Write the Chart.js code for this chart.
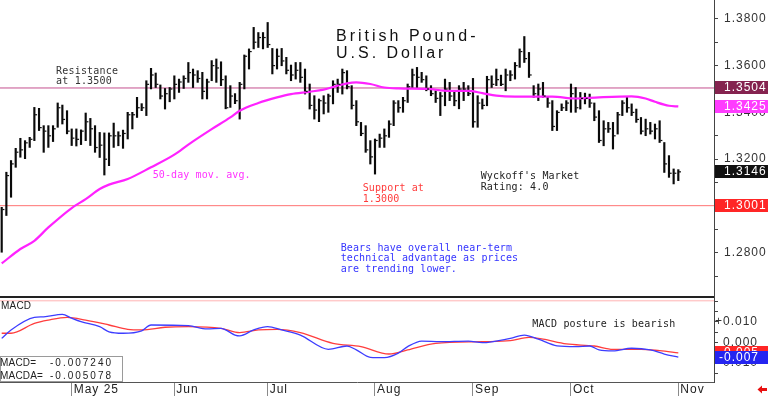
<!DOCTYPE html>
<html><head><meta charset="utf-8">
<script src="https://cdn.jsdelivr.net/npm/chart.js@4/dist/chart.umd.min.js"></script>
<style>
html,body{margin:0;padding:0;background:#fff;width:768px;height:396px;overflow:hidden}
canvas{position:absolute;left:0}
#c1{top:0}
#c2{top:296px}
</style></head><body>
<canvas id="c1" width="768" height="296"></canvas>
<canvas id="c2" width="768" height="100"></canvas>
<script>
// ---- data (bar index 0 = first bar on the chart) ----
const highs = [1.2994,1.3144,1.3194,1.3246,1.3289,1.3279,1.3293,1.3421,1.3417,1.3343,
1.3343,1.3343,1.3440,1.3431,1.3407,1.3329,1.3329,1.3325,1.3397,1.3374,
1.3343,1.3314,1.3312,1.3312,1.3354,1.3317,1.3324,1.3400,1.3400,1.3464,
1.3437,1.3535,1.3588,1.3568,1.3517,1.3502,1.3506,1.3556,1.3542,1.3556,
1.3613,1.3585,1.3578,1.3571,1.3542,1.3621,1.3628,1.3616,1.3556,1.3514,
1.3480,1.3528,1.3645,1.3671,1.3763,1.3741,1.3741,1.3784,1.3673,1.3671,
1.3673,1.3635,1.3602,1.3613,1.3613,1.3585,1.3521,1.3471,1.3457,1.3471,
1.3478,1.3535,1.3542,1.3585,1.3578,1.3514,1.3450,1.3357,1.3343,1.3279,
1.3286,1.3307,1.3329,1.3364,1.3450,1.3450,1.3464,1.3521,1.3585,1.3592,
1.3571,1.3556,1.3514,1.3492,1.3485,1.3542,1.3528,1.3492,1.3514,1.3528,
1.3514,1.3545,1.3471,1.3457,1.3554,1.3556,1.3585,1.3559,1.3585,1.3578,
1.3613,1.3671,1.3724,1.3656,1.3514,1.3521,1.3528,1.3464,1.3450,1.3407,
1.3436,1.3450,1.3521,1.3506,1.3485,1.3482,1.3478,1.3440,1.3407,1.3364,
1.3357,1.3357,1.3400,1.3450,1.3468,1.3436,1.3414,1.3378,1.3371,1.3357,
1.3350,1.3364,1.3271,1.3215,1.3158,1.3155];
const lows = [1.2802,1.2959,1.3037,1.3165,1.3208,1.3202,1.3250,1.3279,1.3322,1.3229,
1.3250,1.3275,1.3336,1.3350,1.3308,1.3258,1.3256,1.3262,1.3279,1.3258,
1.3229,1.3207,1.3132,1.3172,1.3250,1.3257,1.3246,1.3286,1.3329,1.3378,
1.3407,1.3386,1.3500,1.3506,1.3457,1.3414,1.3445,1.3457,1.3485,1.3502,
1.3528,1.3506,1.3528,1.3457,1.3457,1.3535,1.3528,1.3514,1.3415,1.3421,
1.3437,1.3371,1.3500,1.3585,1.3671,1.3677,1.3671,1.3677,1.3564,1.3585,
1.3599,1.3564,1.3535,1.3542,1.3528,1.3478,1.3414,1.3371,1.3360,1.3393,
1.3400,1.3436,1.3485,1.3478,1.3500,1.3414,1.3343,1.3300,1.3229,1.3179,
1.3136,1.3250,1.3250,1.3293,1.3343,1.3400,1.3400,1.3442,1.3506,1.3506,
1.3528,1.3492,1.3471,1.3442,1.3386,1.3428,1.3450,1.3428,1.3415,1.3450,
1.3471,1.3336,1.3336,1.3414,1.3428,1.3506,1.3514,1.3514,1.3492,1.3535,
1.3542,1.3592,1.3613,1.3549,1.3464,1.3450,1.3464,1.3421,1.3322,1.3322,
1.3407,1.3407,1.3400,1.3400,1.3414,1.3436,1.3421,1.3364,1.3271,1.3257,
1.3314,1.3243,1.3307,1.3386,1.3400,1.3386,1.3357,1.3307,1.3300,1.3307,
1.3286,1.3271,1.3143,1.3122,1.3094,1.3108];
const closes = [1.2985,1.3130,1.3180,1.3230,1.3240,1.3270,1.3285,1.3390,1.3335,1.3320,
1.3300,1.3330,1.3420,1.3370,1.3320,1.3290,1.3285,1.3320,1.3360,1.3330,
1.3250,1.3260,1.3200,1.3300,1.3300,1.3300,1.3310,1.3390,1.3390,1.3420,
1.3420,1.3520,1.3560,1.3520,1.3470,1.3480,1.3500,1.3520,1.3530,1.3545,
1.3570,1.3560,1.3545,1.3490,1.3530,1.3600,1.3590,1.3540,1.3420,1.3470,
1.3450,1.3520,1.3640,1.3660,1.3700,1.3720,1.3720,1.3690,1.3600,1.3640,
1.3620,1.3580,1.3560,1.3580,1.3550,1.3490,1.3430,1.3410,1.3450,1.3440,
1.3470,1.3520,1.3520,1.3570,1.3510,1.3430,1.3360,1.3310,1.3240,1.3210,
1.3280,1.3290,1.3300,1.3350,1.3440,1.3420,1.3450,1.3510,1.3560,1.3550,
1.3540,1.3500,1.3480,1.3460,1.3470,1.3500,1.3470,1.3450,1.3500,1.3500,
1.3480,1.3360,1.3440,1.3430,1.3540,1.3520,1.3540,1.3520,1.3560,1.3560,
1.3600,1.3660,1.3630,1.3560,1.3480,1.3500,1.3470,1.3440,1.3340,1.3400,
1.3420,1.3440,1.3480,1.3420,1.3460,1.3460,1.3440,1.3380,1.3280,1.3330,
1.3330,1.3300,1.3390,1.3440,1.3420,1.3400,1.3370,1.3320,1.3330,1.3320,
1.3330,1.3280,1.3180,1.3140,1.3140,1.3146];
const maIdx = [0,4,7,10,15,18,21,23,27,32,37,40,45,49,51,55,59,62,66,69,72,74,76,79,82,85,91,96,100,103,106,110,118,123,128,135,138,140,143,145];
const maVal = [1.2754,1.2816,1.2851,1.2908,1.2991,1.3029,1.3072,1.3091,1.3115,1.3165,1.3219,1.3262,1.3328,1.3378,1.3407,1.3440,1.3464,1.3478,1.3488,1.3497,1.3514,1.3524,1.3528,1.3521,1.3506,1.3502,1.3500,1.3492,1.3492,1.3482,1.3471,1.3467,1.3467,1.3459,1.3464,1.3468,1.3459,1.3445,1.3428,1.3425];
const macdIdx = [0,2,7,9,13,15,17,21,23,26,30,32,40,44,47,50,51,54,57,60,64,70,74,76,79,82,85,87,90,94,100,103,109,112,115,119,123,126,128,131,135,139,142,145];
const macdVal = [0.0019,0.0060,0.0121,0.0124,0.0136,0.0117,0.0100,0.0076,0.0051,0.0044,0.0056,0.0084,0.0081,0.0065,0.0068,0.0035,0.0031,0.0060,0.0076,0.0060,0.0035,-0.0034,-0.0018,-0.0037,-0.0073,-0.0075,-0.0053,-0.0021,0.0006,0.0003,0.0006,-0.0002,0.0019,0.0035,0.0015,-0.0017,-0.0021,-0.0018,-0.0037,-0.0042,-0.0029,-0.0037,-0.0057,-0.0072];
const sigIdx = [0,2,7,10,14,18,23,27,30,35,40,47,51,55,59,64,71,77,83,87,93,103,109,113,116,121,127,131,137,141,145];
const sigVal = [0.0044,0.0044,0.0092,0.0108,0.0121,0.0108,0.0084,0.0063,0.0060,0.0073,0.0076,0.0068,0.0047,0.0060,0.0063,0.0047,-0.0005,-0.0021,-0.0057,-0.0037,-0.0005,0.0003,0.0008,0.0024,0.0015,-0.0008,-0.0018,-0.0034,-0.0034,-0.0041,-0.0051];
const monthLabels = ['May 25','Jun','Jul','Aug','Sep','Oct','Nov'];
const monthIdx = [15,37,57,80,101,122,145];
const macdTickLabels = ['+0.010','0.000','-0.010'];
const macdTickVals = [0.010, 0.000, -0.010];
const resistance = 1.3504, support = 1.3001;
const maLast = 1.3425, lastClose = 1.3146;
const macdLast = -0.007240, macdaLast = -0.005078;

const X_MIN = -0.364, X_MAX = 152.65;
const P_MIN = 1.2615, P_MAX = 1.3880;
const M_MIN = -0.0193, M_MAX = 0.0225;

const SANS = '"Liberation Sans", Arial, sans-serif';
const MONO = '"DejaVu Sans Mono", monospace';

function txt(ctx, s, x, y, font, color, ls, align) {
  ctx.save();
  ctx.font = font; ctx.fillStyle = color; ctx.letterSpacing = ls || '0px';
  ctx.textAlign = align || 'left'; ctx.textBaseline = 'alphabetic';
  ctx.fillText(s, x, y);
  ctx.restore();
}
function valBox(ctx, y, bg, s, align, tx) {
  ctx.save();
  ctx.fillStyle = bg; ctx.fillRect(715, Math.round(y - 6.5), 53, 13);
  ctx.font = '12px ' + SANS; ctx.fillStyle = '#fff'; ctx.letterSpacing = '1px';
  ctx.textAlign = align; ctx.textBaseline = 'middle';
  ctx.fillText(s, tx, Math.round(y - 6.5) + 7);
  ctx.restore();
}
const spacing = {id:'spacing',
  beforeLayout(c){ c.ctx.letterSpacing = '1px'; },
  beforeDraw(c){ c.ctx.letterSpacing = '1px'; }};
function noPad(s){ s.paddingTop = 0; s.paddingBottom = 0; s.paddingLeft = 0; s.paddingRight = 0; }

// ---- price chart ----
const pricePlugin = {id:'pricePlugin',
  afterDatasetsDraw(c){
    const {ctx, scales:{x, y}} = c;
    ctx.save(); ctx.fillStyle = '#111';
    closes.forEach((v, i) => {
      const px = x.getPixelForValue(i), py = y.getPixelForValue(v);
      ctx.fillRect(px + 0.7, py - 0.5, 2, 1.2);
    });
    ctx.restore();
  },
  afterDraw(c){
    const {ctx, scales:{y}} = c;
    txt(ctx, 'British Pound-', 336, 40.7, '16px ' + SANS, '#111', '3px');
    txt(ctx, 'U.S. Dollar', 336, 58.3, '16px ' + SANS, '#111', '3px');
    const f = '10px ' + MONO;
    txt(ctx, 'Resistance', 56, 74, f, '#333', '0.2px');
    txt(ctx, 'at 1.3500', 56, 84, f, '#333', '0.2px');
    txt(ctx, '50-day mov. avg.', 152.7, 178.3, f, '#ff33ff', '0.1px');
    txt(ctx, 'Support at', 362.7, 191, f, '#ff3b3b', '0.1px');
    txt(ctx, '1.3000', 362.7, 201.7, f, '#ff3b3b', '0.1px');
    txt(ctx, "Wyckoff's Market", 480.7, 179.3, f, '#222', '0.15px');
    txt(ctx, 'Rating: 4.0', 480.7, 190, f, '#222', '0.15px');
    txt(ctx, 'Bears have overall near-term', 340.7, 251, f, '#3434ff', '0.1px');
    txt(ctx, 'technical advantage as prices', 340.7, 261.4, f, '#3434ff', '0.1px');
    txt(ctx, 'are trending lower.', 340.7, 271.8, f, '#3434ff', '0.1px');
    valBox(ctx, y.getPixelForValue(resistance), '#85234f', resistance.toFixed(4), 'left', 724);
    valBox(ctx, y.getPixelForValue(maLast), '#ff3cff', maLast.toFixed(4), 'left', 724);
    valBox(ctx, y.getPixelForValue(lastClose), '#111', lastClose.toFixed(4), 'left', 724);
    valBox(ctx, y.getPixelForValue(support), '#ff2626', support.toFixed(4), 'left', 724);
  }};

new Chart(document.getElementById('c1'), {
  type: 'bar',
  data: { datasets: [
    { type:'line', data:[{x:X_MIN, y:resistance},{x:X_MAX, y:resistance}], borderColor:'#c4508e', borderWidth:1, pointRadius:0, order:5 },
    { type:'line', data:[{x:X_MIN, y:support},{x:X_MAX, y:support}], borderColor:'#ff7373', borderWidth:1, pointRadius:0, order:5 },
    { type:'bar', data: highs.map((h, i) => ({x:i, y:[lows[i], h]})), backgroundColor:'#0a0a0a', barThickness:1.5, order:3 },
    { type:'line', data: maIdx.map((v, i) => ({x:v, y:maVal[i]})), borderColor:'#ff22ff', borderWidth:2.2, pointRadius:0, cubicInterpolationMode:'monotone', order:1 }
  ]},
  options: {
    responsive:false, animation:false, devicePixelRatio:1, events:[],
    layout:{padding:0},
    plugins:{legend:{display:false}, tooltip:{enabled:false}},
    scales:{
      x:{type:'linear', min:X_MIN, max:X_MAX, offset:false, display:false},
      y:{type:'linear', position:'right', min:P_MIN, max:P_MAX,
         afterFit(s){ s.width = 54; noPad(s); },
         grid:{drawOnChartArea:false, drawTicks:true, tickLength:4, color:'#444'},
         border:{display:true, color:'#444', width:1},
         ticks:{stepSize:0.01, includeBounds:false, autoSkip:false, crossAlign:'near', padding:6,
                font:{family:SANS, size:12}, color:'#333',
                callback:v => (Math.round(v*100) % 2 === 0 ? v.toFixed(4) : '')}}
    }
  },
  plugins:[spacing, pricePlugin]
});

// ---- MACD chart ----
const macdPlugin = {id:'macdPlugin',
  afterDraw(c){
    const {ctx, scales:{y}} = c;
    ctx.save();
    ctx.fillStyle = '#222'; ctx.fillRect(0, 0, 714, 2);
    ctx.fillStyle = '#ffb4b4'; ctx.fillRect(0, 4.3, 714, 1);
    ctx.restore();
    txt(ctx, 'MACD', 1, 13.3, '10px ' + SANS, '#222', '0.2px');
    ctx.save();
    ctx.fillStyle = '#fff'; ctx.fillRect(0, 60.5, 122.5, 25);
    ctx.strokeStyle = '#9a9a9a'; ctx.lineWidth = 1; ctx.strokeRect(0.5, 60.5, 122, 25);
    ctx.restore();
    txt(ctx, 'MACD=', 0, 70, '10px ' + SANS, '#222', '0.2px');
    txt(ctx, 'MACDA=', 0, 83.3, '10px ' + SANS, '#222', '0.2px');
    txt(ctx, macdLast.toFixed(6), 50, 70, '10px ' + SANS, '#222', '2px');
    txt(ctx, macdaLast.toFixed(6), 50, 83.3, '10px ' + SANS, '#222', '2px');
    txt(ctx, 'MACD posture is bearish', 532.3, 31.3, '10px ' + MONO, '#222', '0.2px');
    valBox(ctx, y.getPixelForValue(macdaLast), '#ff2626', macdaLast.toFixed(3), 'right', 759);
    valBox(ctx, y.getPixelForValue(macdLast), '#2424f0', macdLast.toFixed(3), 'right', 759);
    // small red arrow, bottom right
    ctx.save(); ctx.fillStyle = '#e81010';
    ctx.beginPath(); ctx.moveTo(757.5, 93.5); ctx.lineTo(762, 89.5); ctx.lineTo(762, 97.5); ctx.closePath(); ctx.fill();
    ctx.fillRect(761.5, 92, 5.5, 3);
    ctx.restore();
  }};

new Chart(document.getElementById('c2'), {
  type: 'line',
  data: { datasets: [
    { data: sigIdx.map((v, i) => ({x:v, y:sigVal[i]})), borderColor:'#ff3d3d', borderWidth:1.3, pointRadius:0, cubicInterpolationMode:'monotone', order:2 },
    { data: macdIdx.map((v, i) => ({x:v, y:macdVal[i]})), borderColor:'#3d3dff', borderWidth:1.3, pointRadius:0, cubicInterpolationMode:'monotone', order:1 }
  ]},
  options: {
    responsive:false, animation:false, devicePixelRatio:1, events:[],
    layout:{padding:{top:0, left:0, bottom:0, right:10}},
    plugins:{legend:{display:false}, tooltip:{enabled:false}},
    scales:{
      x:{type:'linear', min:X_MIN, max:X_MAX, offset:false,
         afterBuildTicks(s){ s.ticks = monthIdx.map(v => ({value:v})); },
         afterFit(s){ s.height = 14; noPad(s); },
         grid:{drawOnChartArea:false, drawTicks:true, tickLength:14, color:'#8a8a8a'},
         border:{display:true, color:'#555', width:1},
         ticks:{autoSkip:false, maxRotation:0, minRotation:0, align:'start', padding:-14, labelOffset:2,
                font:{family:SANS, size:12}, color:'#222',
                callback:(v, i) => monthLabels[i]}},
      y:{type:'linear', position:'right', min:M_MIN, max:M_MAX,
         afterFit(s){ s.width = 44; noPad(s); },
         grid:{drawOnChartArea:false, drawTicks:true, tickLength:4, color:'#444'},
         border:{display:true, color:'#444', width:1},
         ticks:{stepSize:0.005, includeBounds:false, autoSkip:false, crossAlign:'far', padding:2,
                font:{family:SANS, size:12}, color:'#333',
                callback:v => { const j = macdTickVals.findIndex(t => Math.abs(t - v) < 1e-6); return j < 0 ? '' : macdTickLabels[j]; }}}
    }
  },
  plugins:[spacing, macdPlugin]
});
</script>
</body></html>
